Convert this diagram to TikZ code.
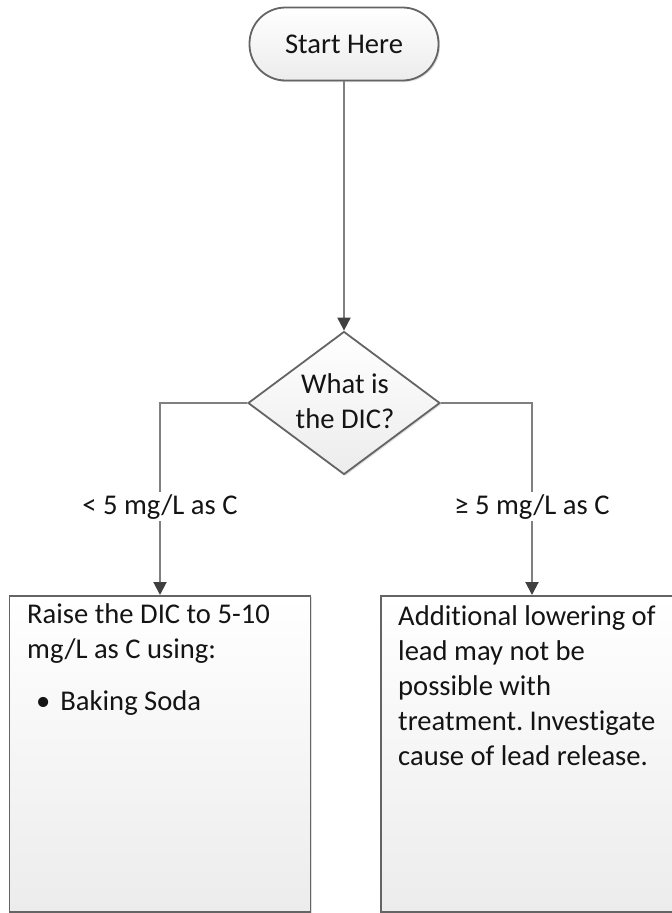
\documentclass[tikz,border=0pt]{standalone}
\usepackage{fontspec}
\setmainfont{Carlito}[Ligatures={NoCommon}]
\usetikzlibrary{arrows.meta,shapes.geometric,shadows}
\definecolor{edgegray}{RGB}{100,100,100}
\definecolor{conngray}{RGB}{128,128,128}
\definecolor{tipgray}{RGB}{64,64,64}
\definecolor{ink}{RGB}{20,20,20}
\definecolor{shadegray}{RGB}{236,236,236}
\frenchspacing
\begin{document}
\begin{tikzpicture}[x=1pt,y=-1pt,
  font=\fontsize{28.6}{35}\selectfont, text=ink,
  shapebox/.style={draw=edgegray, line width=1.8pt, top color=white, bottom color=shadegray,
    drop shadow={shadow xshift=1.5pt, shadow yshift=-1.5pt, opacity=0.25}},
  conn/.style={draw=conngray, line width=2pt,
    -{Triangle[length=13pt,width=13pt,fill=tipgray,color=tipgray]}},
  lbl/.style={fill=white, inner sep=2pt},
  txt/.style={inner sep=0pt, anchor=base west}]
\useasboundingbox (0,0) rectangle (672,913);
\clip (0,0) rectangle (672,913);
\node[shapebox, rounded corners=36pt, minimum width=189pt, minimum height=73pt, inner sep=0pt] (start) at (344,44) {Start Here};
\node[shapebox, diamond, aspect=1.34, minimum width=192pt, minimum height=143pt, inner sep=0pt] (dic) at (344,403) {};
\node[inner sep=0pt, anchor=base] (dictext) at (345,393) {\parbox[t]{160pt}{\centering What is\\the DIC?}};
\node[shapebox, minimum width=301pt, minimum height=316pt, anchor=north] (low) at (160,595) {};
\node[shapebox, minimum width=302pt, minimum height=316pt, anchor=north] (high) at (532,595) {};
\node[txt] (lowtext) at (27,623) {\parbox[t]{280pt}{Raise the DIC to 5-10\\mg/L as C using:\par\vspace{17pt}\hspace{9pt}\textbullet\hspace{10pt}Baking Soda}};
\node[txt] (hightext) at (398,625) {\parbox[t]{280pt}{Additional lowering of\\lead may not be\\possible with\\treatment. Investigate\\cause of lead release.}};
\draw[conn] (start.south) -- (dic.north);
\draw[conn] (dic.west) -| node[lbl, pos=0.77] (lowlbl) {< 5 mg/L as C} (low.north);
\draw[conn] (dic.east) -| node[lbl, pos=0.77] (highlbl) {≥ 5 mg/L as C} (high.north);
\end{tikzpicture}
\end{document}
